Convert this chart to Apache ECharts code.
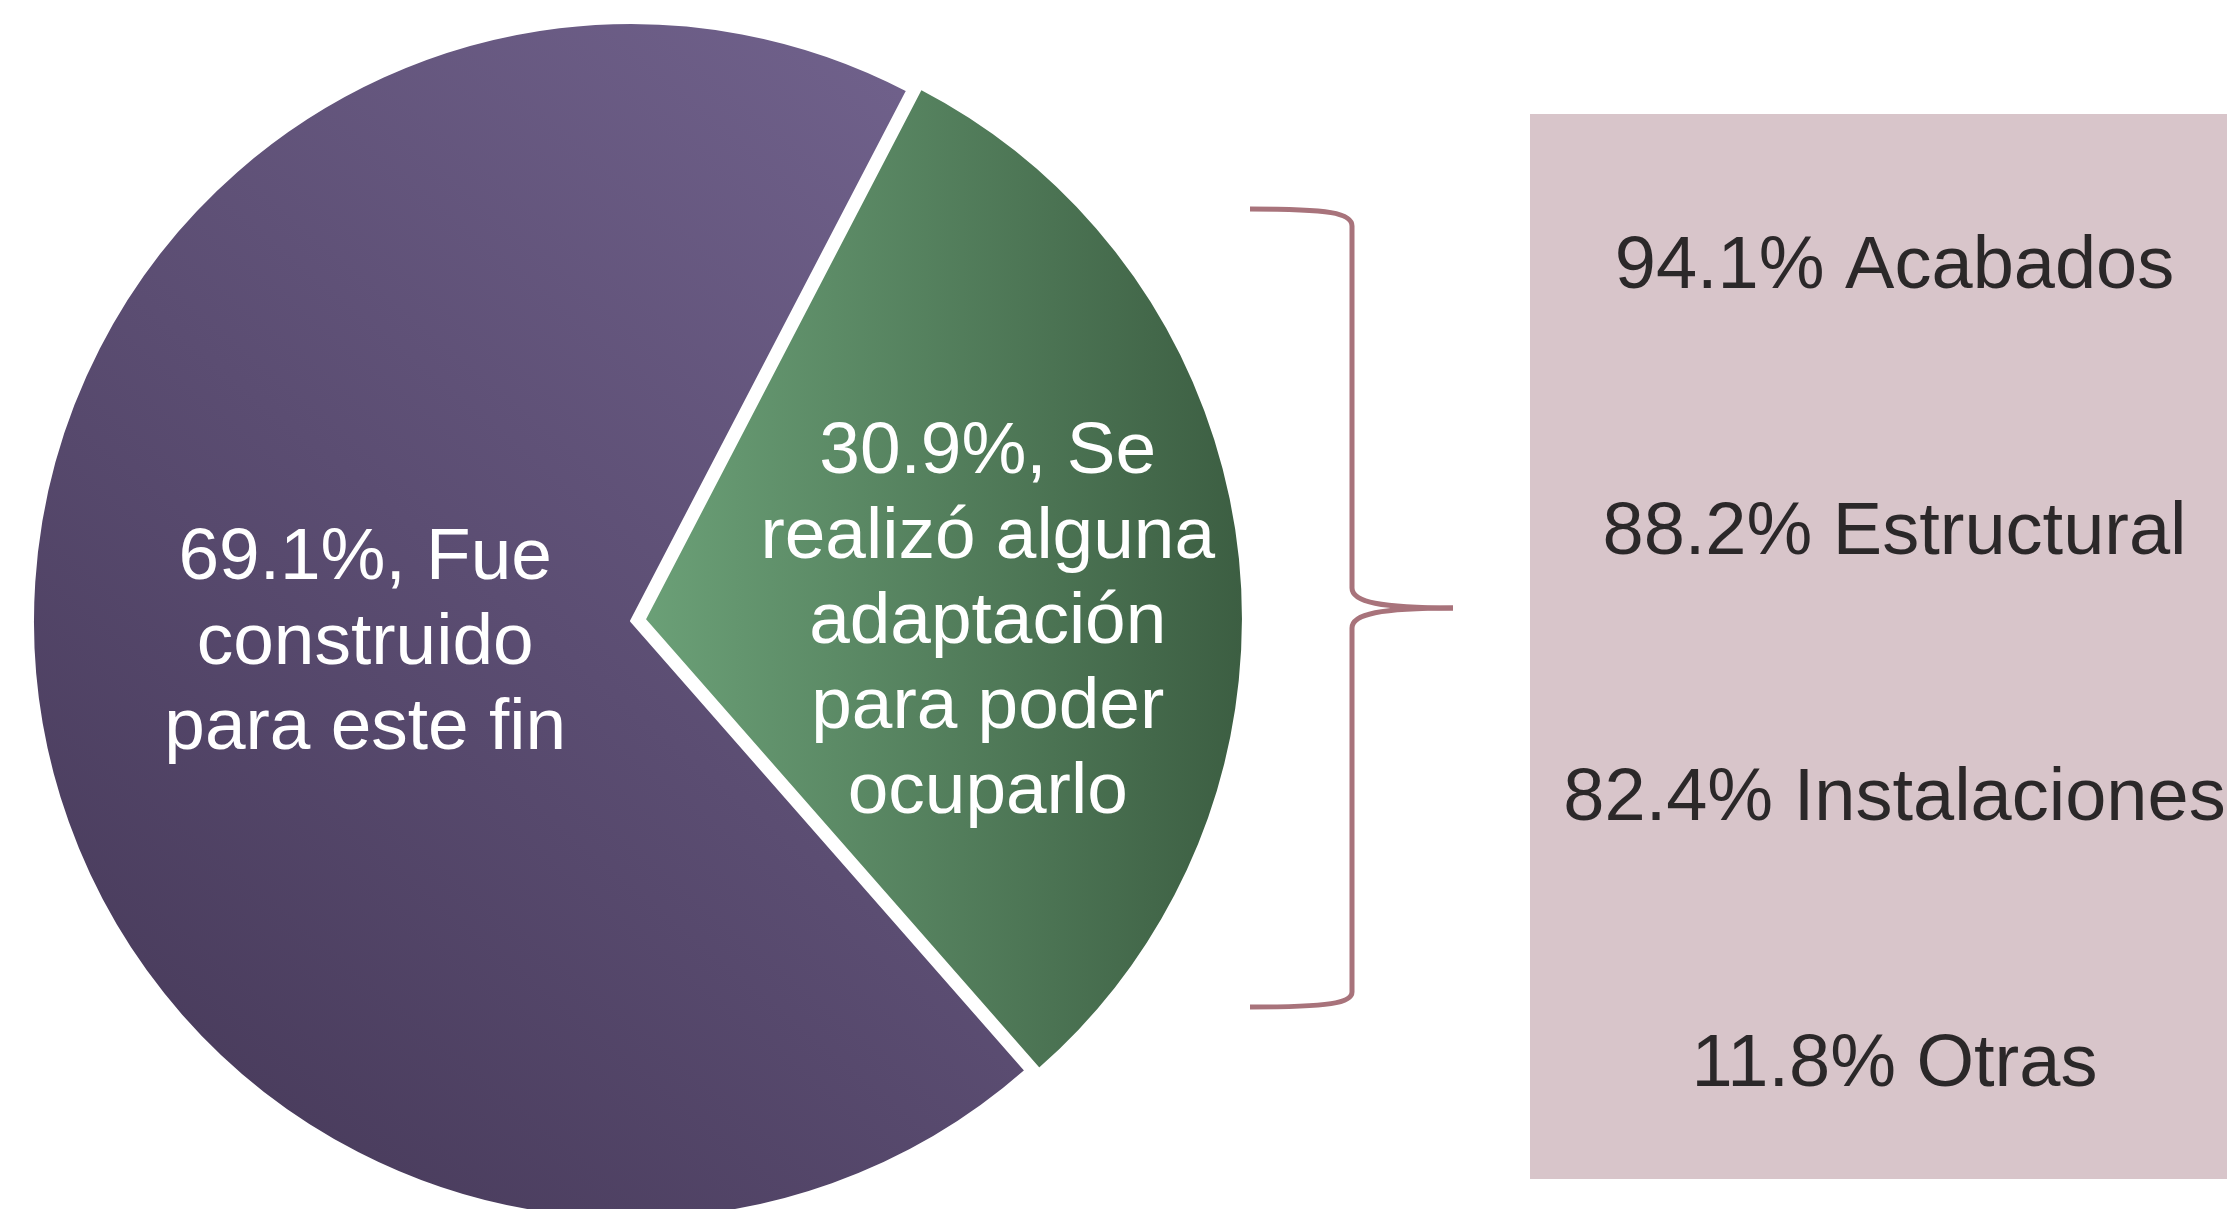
<!DOCTYPE html>
<html>
<head>
<meta charset="utf-8">
<script src="https://cdn.jsdelivr.net/npm/echarts@6/dist/echarts.min.js"></script>
<style>
  html, body { margin: 0; padding: 0; background: #fff; }
  #chart { width: 2227px; height: 1209px; }
</style>
</head>
<body>
<div id="chart"></div>
<script>
// pie: green slice first so it starts at the upper cut
var sliceNames = ['Se\nrealizó alguna\nadaptación\npara poder\nocuparlo', 'Fue\nconstruido\npara este fin']
var sliceValues = [30.9, 69.1]

// breakdown shown in the box on the right
var partNames = ['Acabados', 'Estructural', 'Instalaciones', 'Otras']
var partValues = [94.1, 88.2, 82.4, 11.8]

var font = "'Liberation Sans', Arial, sans-serif"
var braceColor = '#a8737b'
var braceWidth = 5

var myChart = echarts.init(document.getElementById('chart'))

myChart.setOption({
  animation: false,
  backgroundColor: '#ffffff',
  textStyle: { fontFamily: font },
  grid: {
    left: 1530,
    right: 0,
    top: 114,
    height: 1065,
    show: true,
    backgroundColor: '#d8c5ca',
    borderWidth: 0
  },
  xAxis: { type: 'value', min: -1, max: 1, show: false },
  yAxis: { type: 'category', data: partNames, inverse: true, show: false },
  graphic: [
    // curly brace, drawn piece by piece
    { type: 'bezierCurve', silent: true, shape: { x1: 1250, y1: 209, cpx1: 1330, cpy1: 209, cpx2: 1352, cpy2: 213, x2: 1352, y2: 226 }, style: { stroke: braceColor, lineWidth: braceWidth, fill: null } },
    { type: 'line', silent: true, shape: { x1: 1352, y1: 226, x2: 1352, y2: 588 }, style: { stroke: braceColor, lineWidth: braceWidth } },
    { type: 'bezierCurve', silent: true, shape: { x1: 1352, y1: 588, cpx1: 1352, cpy1: 602, cpx2: 1380, cpy2: 608, x2: 1453, y2: 608 }, style: { stroke: braceColor, lineWidth: braceWidth, fill: null } },
    { type: 'bezierCurve', silent: true, shape: { x1: 1453, y1: 608, cpx1: 1380, cpy1: 608, cpx2: 1352, cpy2: 614, x2: 1352, y2: 628 }, style: { stroke: braceColor, lineWidth: braceWidth, fill: null } },
    { type: 'line', silent: true, shape: { x1: 1352, y1: 628, x2: 1352, y2: 992 }, style: { stroke: braceColor, lineWidth: braceWidth } },
    { type: 'bezierCurve', silent: true, shape: { x1: 1352, y1: 992, cpx1: 1352, cpy1: 1003, cpx2: 1330, cpy2: 1007, x2: 1250, y2: 1007 }, style: { stroke: braceColor, lineWidth: braceWidth, fill: null } }
  ],
  series: [{
    type: 'pie',
    center: [631, 621],
    radius: 598,
    startAngle: 62.5,
    clockwise: true,
    selectedMode: 'single',
    selectedOffset: 14,
    emphasis: { disabled: true },
    silent: true,
    itemStyle: { borderColor: '#ffffff', borderWidth: 2 },
    label: {
      show: true,
      position: 'inside',
      color: '#ffffff',
      fontSize: 73,
      lineHeight: 85,
      fontFamily: font,
      formatter: function (p) {
        return p.value + '%, ' + p.name
      }
    },
    labelLine: { show: false },
    labelLayout: function (p) {
      // nudge labels to where the original puts them
      return p.dataIndex === 0 ? { dx: 43, dy: 40 } : { dx: 34, dy: -13 }
    },
    data: [{
      name: sliceNames[0],
      value: sliceValues[0],
      selected: true,
      itemStyle: {
        color: {
          type: 'linear', x: 0, y: 0, x2: 1, y2: 0,
          colorStops: [{ offset: 0, color: '#6ba077' }, { offset: 1, color: '#3c5e42' }]
        }
      }
    }, {
      name: sliceNames[1],
      value: sliceValues[1],
      itemStyle: {
        color: {
          type: 'linear', x: 1, y: 0, x2: 0, y2: 1,
          colorStops: [{ offset: 0, color: '#73648f' }, { offset: 1, color: '#433655' }]
        }
      }
    }]
  }, {
    type: 'scatter',
    silent: true,
    symbol: 'circle',
    symbolSize: 1,
    itemStyle: { color: 'rgba(0,0,0,0)' },
    emphasis: { disabled: true },
    label: {
      show: true,
      position: 'inside',
      color: '#000000',
      textBorderWidth: 0,
      fontSize: 74,
      fontFamily: font,
      formatter: function (p) {
        return partValues[p.dataIndex] + '% ' + partNames[p.dataIndex]
      }
    },
    labelLayout: { hideOverlap: false, dx: 16, dy: 20 },
    data: partNames.map(function (n) { return [0, n] })
  }]
})
</script>
</body>
</html>
